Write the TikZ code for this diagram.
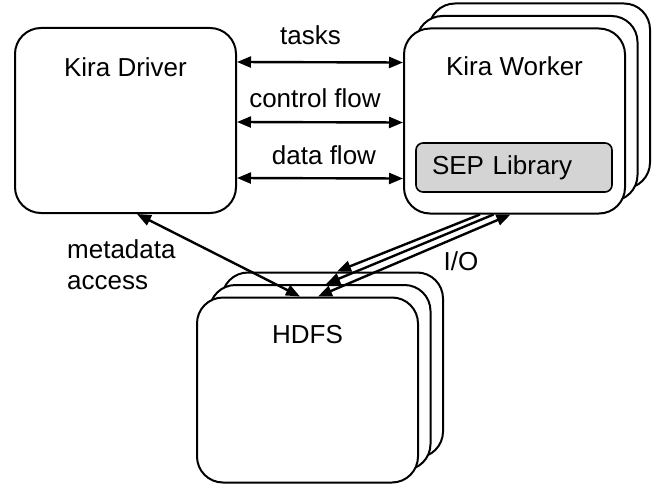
\documentclass[tikz,border=0pt]{standalone}
\usepackage{fontspec}
\setmainfont{Liberation Sans}
\usetikzlibrary{arrows.meta,positioning}
\definecolor{sepgray}{HTML}{d4d4d4}

\begin{document}
\begin{tikzpicture}[x=1pt, y=-1pt, font=\fontsize{26}{31}\selectfont,
  box/.style={draw, line width=2pt, rounded corners=26pt, fill=white,
    minimum width=221pt, minimum height=185pt, inner sep=0pt},
  seplib/.style={draw, line width=1.6pt, rounded corners=7pt, fill=sepgray,
    minimum height=49pt, text width=164pt, inner xsep=16pt, align=left},
  flow/.style={line width=2.4pt, {Triangle[length=14pt,width=11pt]}-{Triangle[length=14pt,width=11pt]}},
  oneway/.style={line width=2.4pt, -{Triangle[length=14pt,width=11pt]}}]
\useasboundingbox (0,0) rectangle (658,487);

% driver
\node[box] (driver) at (125.5,120.5) {};
\node[anchor=base, yshift=-49pt] (driverlbl) at (driver.north) {Kira Driver};

% worker stack
\foreach \s in {2,1}
  \node[box] (worker\s) at ({514.5+12.5*\s},{121-12.5*\s}) {};
\node[box] (worker) at (514.5,121) {};
\node[anchor=base, yshift=-48pt] (workerlbl) at (worker.north) {Kira Worker};
\node[seplib] (sep) at (514,167.5) {SEP Library};

% hdfs stack
\foreach \s in {2,1}
  \node[box] (hdfs\s) at ({307.5+12.5*\s},{390-12.5*\s}) {};
\node[box] (hdfs) at (307.5,390) {};
\node[anchor=base, yshift=-47pt] (hdfslbl) at (hdfs.north) {HDFS};

% driver <-> worker
\draw[flow] ([yshift=58.5pt]driver.east) -- node[anchor=base, yshift=18pt, xshift=-9.5pt] (taskslbl) {tasks} ([yshift=58.5pt]worker.west);
\draw[flow] ([yshift=-1.5pt]driver.east) -- node[anchor=base, yshift=15pt, xshift=-5pt] (ctrllbl) {control flow} ([yshift=-1.5pt]worker.west);
\draw[flow] ([yshift=-57.5pt]driver.east) -- node[anchor=base, yshift=14pt, xshift=4pt] (datalbl) {data flow} ([yshift=-57.5pt]worker.west);

% hdfs links
\draw[flow] ([xshift=11.5pt]driver.south) -- ([xshift=-7.5pt]hdfs.north);
\node[anchor=north west, align=left, inner sep=0pt] (metalbl) at (67,239) {metadata\\access};
\draw[oneway] ([xshift=-34.5pt]worker.south) -- ([xshift=4.5pt]hdfs2.north);
\draw[oneway] ([xshift=-21pt]worker.south) -- ([xshift=6pt]hdfs1.north);
\draw[flow] ([xshift=10.5pt]hdfs.north) -- ([xshift=-4pt]worker.south);
\node[anchor=base] (iolbl) at (461,270) {I/O};
\end{tikzpicture}
\end{document}
